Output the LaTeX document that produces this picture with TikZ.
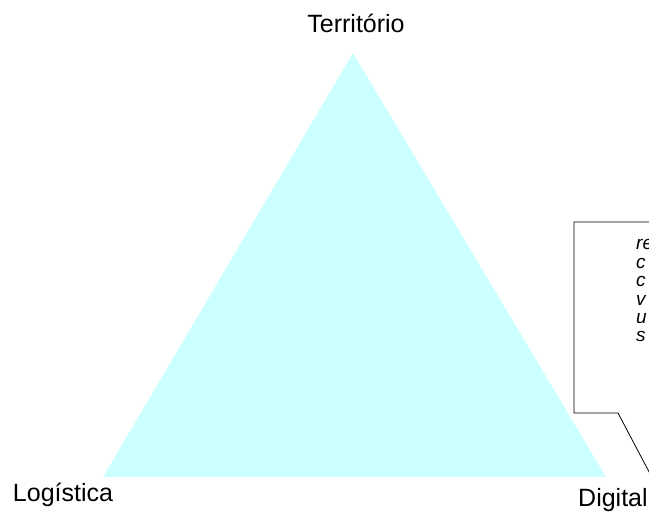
\documentclass[tikz,border=0pt]{standalone}
\usepackage{fontspec}
\setmainfont{Liberation Sans}
\definecolor{tri}{HTML}{CCFFFF}
\tikzset{
  lbl/.style={font=\fontsize{25}{28}\selectfont, inner sep=0pt},
  note/.style={font=\fontsize{19}{18.5}\selectfont\itshape, inner sep=0pt, anchor=base west},
  callout/.style={draw=black, line width=0.8pt, fill=white}
}
\begin{document}
\begin{tikzpicture}[x=1pt,y=-1pt]
\useasboundingbox (0,0) rectangle (649,513);
\clip (0,0) rectangle (649,513);
\coordinate (A) at (353,53);
\coordinate (B) at (103,477);
\coordinate (C) at (606,477);
\fill[tri] (A) -- (B) -- (C) -- cycle;
\node[lbl, anchor=base] (terr) at (356,33) {Território};
\node[lbl, anchor=base] (log) at (63,501) {Logística};
\node[lbl, anchor=base west] (dig) at (578,507) {Digital};
\coordinate (tip) at (656,485);
\draw[callout] (700,222) -- (574,222) -- (574,413) -- (618,413) -- (tip) -- (700,485) -- cycle;
\foreach \t [count=\i from 0] in {re,c,c,v,u,s}
  \node[note] (n\i) at (636,250+18.4*\i) {\t};
\end{tikzpicture}
\end{document}
